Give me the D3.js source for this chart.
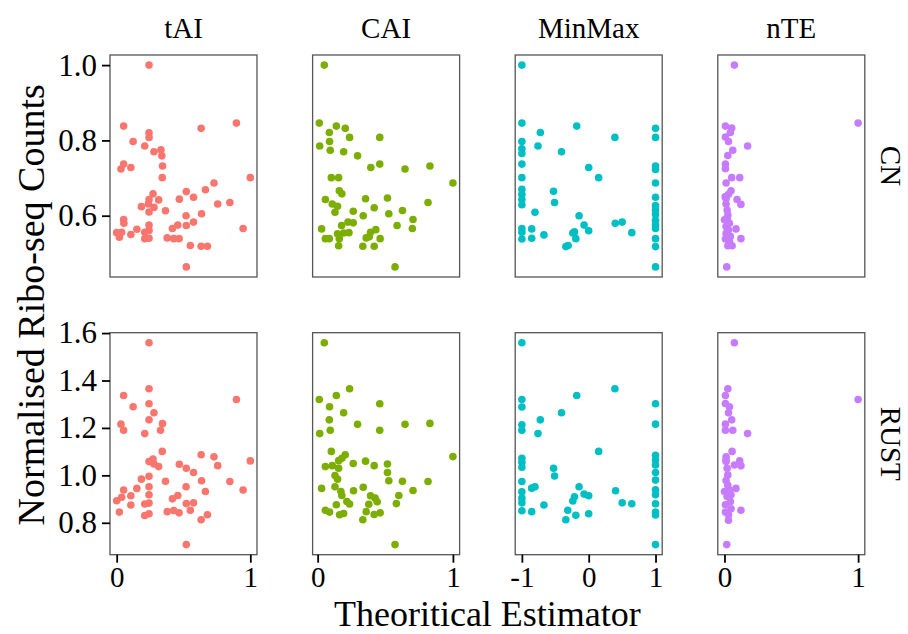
<!DOCTYPE html>
<html>
<head>
<meta charset="utf-8">
<script src="https://cdn.jsdelivr.net/npm/d3@7"></script>
<style>
  body { margin: 0; background: #fff; }
  svg text { font-family: "Liberation Serif", "Times New Roman", serif; fill: #000; }
  .axis path.domain { display: none; }
  .axis line { stroke: #000; stroke-width: 1.8; }
</style>
</head>
<body>
<script>
var columns = ["tAI", "CAI", "MinMax", "nTE"];
var rows = ["CN", "RUST"];
var colours = ["#F8766D", "#7CAE00", "#00BFC4", "#C77CFF"];
var xTickValues = [[0, 1], [0, 1], [-1, 0, 1], [0, 1]];
var yTickValues = [[0.6, 0.8, 1.0], [0.8, 1.0, 1.2, 1.4, 1.6]];

// [estimator value, normalised counts]
var tAI_CN = [[0.242,1.0],[0.052,0.838],[0.896,0.846],[0.632,0.832],[0.242,0.820],[0.242,0.808],[0.123,0.797],[0.210,0.785],
  [0.279,0.770],[0.331,0.775],[0.338,0.759],[0.052,0.737],[0.032,0.724],[0.106,0.728],[0.343,0.732],[0.341,0.701],[1.0,0.701],
  [0.728,0.687],[0.664,0.669],[0.521,0.664],[0.575,0.649],[0.469,0.644],[0.272,0.658],[0.242,0.643],[0.314,0.642],[0.237,0.631],
  [0.185,0.624],[0.279,0.622],[0.242,0.610],[0.365,0.613],[0.756,0.631],[0.847,0.635],[0.635,0.605],[0.519,0.600],[0.052,0.590],
  [0.054,0.580],[0.575,0.583],[0.521,0.574],[0.457,0.575],[0.417,0.566],[0.946,0.566],[0.242,0.575],[0.151,0.564],[0.242,0.561],
  [0.210,0.556],[0.0,0.555],[0.037,0.556],[0.020,0.543],[0.106,0.550],[0.210,0.539],[0.242,0.540],[0.378,0.541],[0.427,0.539],
  [0.467,0.539],[0.551,0.521],[0.632,0.519],[0.679,0.519],[0.521,0.464]];
var tAI_RUST = [[0.242,1.559],[0.242,1.365],[0.052,1.337],[0.896,1.320],[0.123,1.289],[0.242,1.302],[0.279,1.264],[0.242,1.234],
  [0.032,1.216],[0.052,1.190],[0.343,1.218],[0.328,1.190],[0.210,1.176],[0.341,1.101],[0.632,1.087],[0.728,1.078],[1.0,1.061],
  [0.756,1.041],[0.272,1.069],[0.242,1.058],[0.279,1.048],[0.314,1.037],[0.469,1.047],[0.521,1.030],[0.575,1.012],[0.242,0.996],
  [0.185,0.984],[0.365,0.975],[0.635,0.977],[0.847,0.974],[0.151,0.945],[0.242,0.952],[0.519,0.952],[0.946,0.938],[0.052,0.938],
  [0.664,0.932],[0.037,0.908],[0.0,0.893],[0.106,0.914],[0.242,0.918],[0.417,0.901],[0.457,0.915],[0.242,0.883],[0.210,0.879],
  [0.521,0.881],[0.575,0.884],[0.551,0.853],[0.106,0.875],[0.020,0.845],[0.378,0.847],[0.427,0.852],[0.467,0.842],[0.242,0.838],
  [0.210,0.831],[0.679,0.834],[0.632,0.813],[0.521,0.708]];
var CAI_CN = [[0.049,1.0],[0.012,0.846],[0.138,0.838],[0.204,0.832],[0.086,0.821],[0.236,0.808],[0.459,0.808],[0.088,0.797],
  [0.015,0.785],[0.093,0.774],[0.192,0.770],[0.295,0.759],[0.393,0.728],[0.459,0.737],[0.646,0.724],[0.830,0.732],[1.0,0.687],
  [0.101,0.701],[0.155,0.701],[0.160,0.666],[0.179,0.658],[0.057,0.643],[0.354,0.645],[0.516,0.647],[0.108,0.631],[0.147,0.625],
  [0.128,0.609],[0.263,0.612],[0.418,0.621],[0.816,0.635],[0.337,0.600],[0.526,0.605],[0.627,0.614],[0.705,0.590],[0.029,0.565],
  [0.224,0.583],[0.263,0.581],[0.177,0.574],[0.587,0.574],[0.700,0.566],[0.147,0.552],[0.192,0.554],[0.231,0.555],[0.057,0.539],
  [0.086,0.539],[0.160,0.539],[0.391,0.556],[0.430,0.563],[0.359,0.541],[0.381,0.544],[0.462,0.539],[0.155,0.520],[0.334,0.519],
  [0.418,0.519],[0.572,0.464]];
var CAI_RUST = [[0.049,1.559],[0.236,1.365],[0.138,1.337],[0.012,1.320],[0.088,1.289],[0.459,1.302],[0.192,1.264],[0.086,1.234],
  [0.015,1.176],[0.093,1.190],[0.295,1.215],[0.459,1.190],[0.646,1.215],[0.830,1.219],[1.0,1.079],[0.101,1.101],[0.204,1.087],
  [0.179,1.072],[0.155,1.062],[0.057,1.037],[0.108,1.041],[0.155,1.030],[0.263,1.050],[0.354,1.060],[0.418,1.041],[0.516,1.048],
  [0.516,1.012],[0.128,0.999],[0.147,0.984],[0.526,0.977],[0.627,0.975],[0.816,0.974],[0.029,0.945],[0.128,0.952],[0.265,0.935],
  [0.337,0.950],[0.705,0.936],[0.172,0.932],[0.179,0.915],[0.600,0.915],[0.391,0.914],[0.425,0.904],[0.216,0.890],[0.236,0.879],
  [0.440,0.889],[0.378,0.878],[0.582,0.881],[0.138,0.876],[0.057,0.853],[0.088,0.845],[0.162,0.834],[0.192,0.839],[0.359,0.847],
  [0.418,0.835],[0.462,0.842],[0.334,0.813],[0.572,0.708]];
var MinMax_CN = [[-1,1.0],[-1,0.846],[-0.179,0.838],[1,0.832],[-0.724,0.821],[0.392,0.808],[1,0.808],[-1,0.797],[-0.759,0.785],
  [-1,0.778],[-1,0.765],[-0.407,0.770],[-1,0.737],[1,0.732],[1,0.723],[0,0.728],[-1,0.701],[0.149,0.701],[1,0.687],[-1,0.670],
  [-1,0.657],[-1,0.643],[-1,0.629],[-0.526,0.665],[-0.511,0.635],[1,0.649],[1,0.627],[1,0.615],[1,0.603],[1,0.588],[1,0.575],
  [1,0.566],[-0.804,0.609],[-0.144,0.600],[-0.069,0.575],[0,0.560],[0.397,0.580],[0.501,0.583],[0.645,0.555],[-1,0.566],
  [-1,0.556],[-1,0.538],[-0.853,0.565],[-0.853,0.540],[-0.670,0.549],[-0.238,0.554],[-0.213,0.557],[-0.193,0.539],[-0.342,0.518],
  [-0.308,0.521],[1,0.539],[1,0.518],[1,0.464]];
var MinMax_RUST = [[-1,1.559],[0.392,1.365],[-0.179,1.337],[-1,1.320],[-1,1.288],[1,1.302],[-0.407,1.264],[-0.724,1.234],
  [-1,1.213],[-1,1.190],[1,1.216],[-0.759,1.176],[0.149,1.101],[-1,1.072],[-1,1.055],[-1,1.034],[1,1.085],[1,1.065],[1,1.044],
  [1,1.012],[1,0.980],[1,0.939],[1,0.918],[1,0.880],[1,0.845],[1,0.833],[1,0.708],[-0.526,1.030],[-0.511,0.997],[-1,0.974],
  [-1,0.931],[-1,0.904],[-1,0.884],[-1,0.851],[-0.853,0.847],[-0.853,0.946],[-0.804,0.952],[-0.670,0.875],[-0.144,0.952],
  [-0.069,0.921],[0,0.914],[-0.213,0.910],[-0.238,0.892],[-0.313,0.853],[-0.193,0.832],[-0.342,0.813],[0,0.838],[0.402,0.935],
  [0.501,0.884],[0.645,0.880]];
var nTE_CN = [[0.074,1.0],[1.0,0.846],[0.007,0.838],[0.054,0.833],[0.044,0.821],[0.007,0.809],[0.030,0.797],[0.173,0.785],
  [0.062,0.774],[0.025,0.760],[0.007,0.737],[0.007,0.725],[0.054,0.701],[0.114,0.701],[0.012,0.687],[0.049,0.666],[0.030,0.657],
  [0.012,0.646],[0.094,0.643],[0.123,0.630],[0.012,0.631],[0.020,0.615],[0.025,0.602],[0.0,0.589],[0.037,0.580],[0.012,0.571],
  [0.086,0.565],[0.012,0.553],[0.044,0.545],[0.007,0.538],[0.123,0.539],[0.025,0.520],[0.057,0.520],[0.017,0.464],[0.020,0.593],
  [0.030,0.562],[0.005,0.650],[0.037,0.532]];
var nTE_RUST = [[0.074,1.559],[1.0,1.320],[0.025,1.365],[0.007,1.337],[0.007,1.303],[0.037,1.289],[0.030,1.264],[0.054,1.234],
  [0.007,1.216],[0.007,1.190],[0.062,1.190],[0.173,1.176],[0.057,1.101],[0.012,1.078],[0.012,1.058],[0.114,1.061],[0.123,1.040],
  [0.074,1.044],[0.020,1.030],[0.025,1.002],[0.012,0.978],[0.086,0.945],[0.037,0.938],[0.0,0.932],[0.020,0.911],[0.044,0.890],
  [0.007,0.876],[0.123,0.853],[0.049,0.859],[0.007,0.845],[0.030,0.811],[0.017,0.708],[0.025,0.958],[0.049,0.918],[0.030,0.834],
  [0.012,1.065]];

var panels = [
  [tAI_CN, CAI_CN, MinMax_CN, nTE_CN],
  [tAI_RUST, CAI_RUST, MinMax_RUST, nTE_RUST]
];

var margin = {top: 55, left: 110},
    width = 908, height = 634,
    panelW = 147, panelH = 222,
    colStep = 202.6, rowStep = 277.7;

var svg = d3.select("body").append("svg")
    .attr("width", width)
    .attr("height", height);

// ggplot style 5% expansion
function expand(ext) {
  var pad = (ext[1] - ext[0]) * 0.05;
  return [ext[0] - pad, ext[1] + pad];
}

var xScales = columns.map(function(c, j) {
  var all = panels[0][j].concat(panels[1][j]);
  return d3.scaleLinear()
      .domain(expand(d3.extent(all, function(d) { return d[0]; })))
      .range([0, panelW]);
});

var yScales = rows.map(function(r, i) {
  var all = d3.merge(panels[i]);
  return d3.scaleLinear()
      .domain(expand(d3.extent(all, function(d) { return d[1]; })))
      .range([panelH, 0]);
});

rows.forEach(function(r, i) {
  columns.forEach(function(c, j) {
    var g = svg.append("g")
        .attr("transform", "translate(" + (margin.left + j * colStep) + "," + (margin.top + i * rowStep) + ")");

    g.selectAll("circle")
        .data(panels[i][j])
        .enter()
        .append("circle")
        .attr("cx", function(d) { return xScales[j](d[0]); })
        .attr("cy", function(d) { return yScales[i](d[1]); })
        .attr("r", 3.8)
        .style("fill", colours[j]);

    g.append("rect")
        .attr("width", panelW)
        .attr("height", panelH)
        .style("fill", "none")
        .style("stroke", "#555")
        .style("stroke-width", 1.3);

    if (j == 0) {
      g.append("g")
          .attr("class", "axis")
          .call(d3.axisLeft(yScales[i]).tickValues(yTickValues[i]).tickFormat(d3.format(".1f"))
            .tickSize(8).tickPadding(5))
          .selectAll("text")
          .style("font-size", "31px");
    }
    if (i == 1) {
      g.append("g")
          .attr("class", "axis")
          .attr("transform", "translate(0," + panelH + ")")
          .call(d3.axisBottom(xScales[j]).tickValues(xTickValues[j]).tickFormat(function(d) { return String(d); })
            .tickSize(8).tickPadding(4))
          .selectAll("text")
          .style("font-size", "29px");
    }
    if (i == 0) {
      svg.append("text")
          .attr("x", margin.left + j * colStep + panelW / 2)
          .attr("y", 38)
          .attr("text-anchor", "middle")
          .style("font-size", "29px")
          .text(c);
    }
  });

  svg.append("text")
      .attr("transform", "translate(" + 881 + "," + (margin.top + i * rowStep + panelH / 2) + ") rotate(90)")
      .attr("text-anchor", "middle")
      .style("font-size", "29px")
      .text(r);
});

svg.append("text")
    .attr("transform", "translate(" + 44 + "," + (margin.top + (rowStep + panelH) / 2) + ") rotate(-90)")
    .attr("text-anchor", "middle")
    .style("font-size", "38px")
    .text("Normalised Ribo-seq Counts");

svg.append("text")
    .attr("x", margin.left + (3 * colStep + panelW) / 2)
    .attr("y", 626)
    .attr("text-anchor", "middle")
    .style("font-size", "36px")
    .text("Theoritical Estimator");
</script>
</body>
</html>
